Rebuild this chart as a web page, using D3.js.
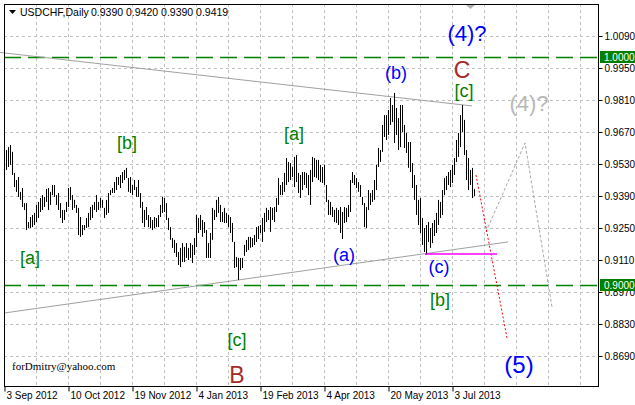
<!DOCTYPE html>
<html><head><meta charset="utf-8">
<script src="https://cdn.jsdelivr.net/npm/d3@7"></script>
<style>body{margin:0;background:#fff}svg{display:block}</style>
</head><body>
<svg id="c" width="635" height="405"></svg>
<script>
// ---- data ----
const symbolTitle = "USDCHF,Daily";
const lastQuote = ["0.9390", "0.9420", "0.9390", "0.9419"];
const highs = [
0.9591,0.9604,0.9613,0.9583,0.9491,0.9460,0.9473,0.9408,0.9425,0.9359,
0.9359,0.9276,0.9298,0.9307,0.9316,0.9351,0.9364,0.9381,0.9394,0.9386,
0.9421,0.9425,0.9408,0.9438,0.9438,0.9394,0.9403,0.9359,0.9329,0.9329,
0.9364,0.9425,0.9429,0.9394,0.9373,0.9351,0.9338,0.9298,0.9263,0.9263,
0.9294,0.9316,0.9342,0.9351,0.9364,0.9394,0.9364,0.9381,0.9373,0.9338,
0.9373,0.9403,0.9416,0.9425,0.9451,0.9473,0.9473,0.9482,0.9495,0.9504,
0.9513,0.9469,0.9473,0.9438,0.9460,0.9429,0.9460,0.9403,0.9364,0.9329,
0.9342,0.9307,0.9298,0.9285,0.9298,0.9294,0.9307,0.9351,0.9386,0.9381,
0.9359,0.9294,0.9254,0.9206,0.9198,0.9184,0.9145,0.9163,0.9184,0.9167,
0.9184,0.9163,0.9184,0.9176,0.9206,0.9307,0.9294,0.9307,0.9285,0.9276,
0.9241,0.9184,0.9228,0.9338,0.9329,0.9373,0.9386,0.9351,0.9320,0.9338,
0.9316,0.9307,0.9298,0.9272,0.9189,0.9123,0.9119,0.9119,0.9119,
0.9176,0.9198,0.9211,0.9211,0.9206,0.9219,0.9254,0.9259,0.9263,0.9294,
0.9316,0.9338,0.9329,0.9342,0.9338,0.9342,0.9381,0.9469,0.9438,0.9451,
0.9491,0.9556,0.9539,0.9534,0.9517,0.9561,0.9569,0.9491,0.9482,0.9495,
0.9495,0.9491,0.9482,0.9504,0.9561,0.9556,0.9548,0.9548,0.9526,0.9517,
0.9526,0.9438,0.9373,0.9364,0.9342,0.9329,0.9338,0.9329,0.9342,0.9320,
0.9342,0.9338,0.9351,0.9460,0.9495,0.9482,0.9469,0.9451,0.9438,
0.9386,0.9359,0.9342,0.9416,0.9403,0.9416,0.9460,0.9526,0.9600,0.9591,
0.9701,0.9744,0.9744,0.9766,0.9819,0.9788,0.9841,0.9775,0.9731,0.9788,
0.9788,0.9701,0.9666,0.9626,0.9626,0.9534,0.9482,0.9438,0.9373,0.9381,
0.9294,0.9250,0.9263,0.9276,0.9250,0.9272,0.9285,0.9316,0.9373,0.9364,
0.9416,0.9469,0.9478,0.9495,0.9504,0.9526,0.9556,0.9635,0.9666,0.9744,
0.9788,0.9723,0.9591,0.9556,0.9504,0.9513,0.9420
];
const lows = [
0.9504,0.9517,0.9526,0.9482,0.9429,0.9408,0.9386,0.9373,0.9342,0.9329,
0.9241,0.9250,0.9250,0.9254,0.9263,0.9276,0.9294,0.9320,0.9329,0.9342,
0.9364,0.9329,0.9351,0.9394,0.9386,0.9351,0.9329,0.9294,0.9272,0.9285,
0.9320,0.9342,0.9373,0.9329,0.9338,0.9316,0.9219,0.9211,0.9219,0.9241,
0.9250,0.9254,0.9285,0.9294,0.9329,0.9320,0.9329,0.9338,0.9338,0.9294,
0.9307,0.9316,0.9394,0.9403,0.9403,0.9416,0.9438,0.9425,0.9447,0.9460,
0.9469,0.9408,0.9403,0.9394,0.9416,0.9386,0.9386,0.9338,0.9272,0.9254,
0.9285,0.9254,0.9250,0.9241,0.9250,0.9254,0.9254,0.9298,0.9316,0.9320,
0.9285,0.9241,0.9198,0.9163,0.9141,0.9123,0.9088,0.9079,0.9101,0.9101,
0.9119,0.9110,0.9119,0.9097,0.9132,0.9167,0.9228,0.9241,0.9211,0.9228,
0.9119,0.9119,0.9119,0.9198,0.9285,0.9298,0.9316,0.9276,0.9276,0.9272,
0.9272,0.9254,0.9228,0.9189,0.9075,0.9079,0.9023,0.9066,0.9075,
0.9128,0.9145,0.9154,0.9163,0.9167,0.9176,0.9189,0.9202,0.9228,0.9189,
0.9233,0.9276,0.9285,0.9233,0.9285,0.9276,0.9320,0.9351,0.9394,0.9394,
0.9408,0.9438,0.9451,0.9460,0.9473,0.9429,0.9451,0.9403,0.9381,0.9416,
0.9438,0.9425,0.9394,0.9351,0.9451,0.9473,0.9469,0.9460,0.9451,0.9447,
0.9438,0.9364,0.9307,0.9307,0.9298,0.9276,0.9272,0.9263,0.9228,0.9202,
0.9272,0.9276,0.9298,0.9320,0.9447,0.9438,0.9425,0.9408,0.9386,
0.9351,0.9254,0.9250,0.9329,0.9351,0.9364,0.9373,0.9416,0.9517,0.9539,
0.9583,0.9648,0.9635,0.9657,0.9701,0.9714,0.9622,0.9657,0.9591,0.9604,
0.9670,0.9600,0.9578,0.9513,0.9495,0.9425,0.9373,0.9307,0.9263,0.9228,
0.9176,0.9145,0.9132,0.9189,0.9163,0.9184,0.9215,0.9228,0.9263,0.9294,
0.9307,0.9394,0.9416,0.9438,0.9429,0.9447,0.9482,0.9539,0.9561,0.9604,
0.9670,0.9569,0.9460,0.9416,0.9438,0.9381,0.9390
];
const priceTicks = [1.0090,0.9950,0.9810,0.9670,0.9530,0.9390,0.9250,0.9110,0.8970,0.8830,0.8690];
const levelPrices = [1.0000, 0.9000];
const dateLabels = ["3 Sep 2012","10 Oct 2012","19 Nov 2012","4 Jan 2013","19 Feb 2013","4 Apr 2013","20 May 2013","3 Jul 2013"];
const dateBars = [-1, 31, 63, 95, 127, 159, 191, 223];
const gridBars = d3.range(15, 296, 16);
// trend / forecast lines: [bar, price] vertices
const upperTrend = [[-3, 1.0018], [233, 0.9784]];
const lowerTrend = [[-1, 0.8878], [251, 0.9189]];
const redPath = [[235, 0.9482], [250.5, 0.8769]];
const grayPath = [[240, 0.9233], [259.5, 0.9622], [273, 0.8904]];
const magentaLine = [[209.5, 0.9136], [245.5, 0.9136]];
// wave labels: text, bar, price, kind
const waveLabels = [
  ["[a]", 12, 0.9119, "g"], ["[b]", 60.5, 0.9622, "g"], ["[a]", 144, 0.9661, "g"],
  ["(a)", 169, 0.9132, "b"], ["(b)", 195, 0.9928, "b"], ["C", 228, 0.9941, "r"],
  ["[c]", 229, 0.9849, "g"], ["(4)?", 230.5, 1.0103, "B"], ["(4)?", 261.5, 0.9793, "s"],
  ["(c)", 216.5, 0.9079, "b"], ["[b]", 217, 0.8935, "g"], ["(5)", 256.5, 0.8651, "B5"],
  ["[c]", 115.5, 0.8760, "g"], ["B", 115.5, 0.8607, "r"]
];
const signature = "forDmitry@yahoo.com";

// ---- drawing ----
const svg = d3.select("#c");
const L = 4, R = 598, T = 4, Bt = 386;
const x = d3.scaleLinear().domain([-1, 296]).range([L, R]);
const y = d3.scaleLinear().domain([0.855875, 1.0230]).range([Bt, T]);
const font = "'Liberation Sans', Arial, sans-serif";

svg.append("rect").attr("width", 635).attr("height", 405).attr("fill", "#fff");

// grid
const g = svg.append("g");
g.selectAll("line.h").data(priceTicks).join("line")
  .attr("x1", L).attr("x2", R)
  .attr("y1", d => Math.round(y(d)) + 0.5).attr("y2", d => Math.round(y(d)) + 0.5)
  .attr("stroke", "#c0c0c0").attr("stroke-dasharray", "3,3");
g.selectAll("line.v").data(gridBars).join("line")
  .attr("x1", d => Math.round(x(d)) + 0.5).attr("x2", d => Math.round(x(d)) + 0.5)
  .attr("y1", T).attr("y2", Bt)
  .attr("stroke", "#c0c0c0").attr("stroke-dasharray", "3,3");

// level lines
svg.selectAll("line.lvl").data(levelPrices).join("line")
  .attr("x1", L).attr("x2", R)
  .attr("y1", d => Math.round(y(d)) + 0.5).attr("y2", d => Math.round(y(d)) + 0.5)
  .attr("stroke", "#008000").attr("stroke-width", 1.3).attr("stroke-dasharray", "17,7");

// trend lines
const line = d3.line().x(d => x(d[0])).y(d => y(d[1]));
svg.append("path").attr("d", line(upperTrend)).attr("fill", "none").attr("stroke", "#a0a0a0");
svg.append("path").attr("d", line(lowerTrend)).attr("fill", "none").attr("stroke", "#a0a0a0");

// bars
svg.append("g").selectAll("line").data(highs).join("line")
  .attr("x1", (d, i) => Math.round(x(i)) + 0.5).attr("x2", (d, i) => Math.round(x(i)) + 0.5)
  .attr("y1", d => y(d)).attr("y2", (d, i) => y(lows[i]))
  .attr("stroke", "#000").attr("stroke-width", 1);

// forecast paths
svg.append("path").attr("d", line(grayPath)).attr("fill", "none")
  .attr("stroke", "#a8a8a8").attr("stroke-dasharray", "3,2");
svg.append("path").attr("d", line(redPath)).attr("fill", "none")
  .attr("stroke", "#ff0000").attr("stroke-dasharray", "2,2");
svg.append("path").attr("d", line(magentaLine)).attr("fill", "none")
  .attr("stroke", "#ff00ff").attr("stroke-width", 1.5);

// wave labels
const styles = {
  g: {fill: "#008000", size: 18}, b: {fill: "#0000ff", size: 18},
  r: {fill: "#a52a2a", size: 23}, B: {fill: "#0000ff", size: 22},
  s: {fill: "#b8b8b8", size: 22}, B5: {fill: "#0000ff", size: 24}
};
svg.append("g").selectAll("text").data(waveLabels).join("text")
  .attr("x", d => x(d[1])).attr("y", d => y(d[2]))
  .attr("text-anchor", "middle").attr("dominant-baseline", "central")
  .attr("font-family", font).attr("font-size", d => styles[d[3]].size)
  .attr("fill", d => styles[d[3]].fill).text(d => d[0]);

// frame
svg.append("rect").attr("x", L + 0.5).attr("y", T + 0.5).attr("width", R - L).attr("height", Bt - T)
  .attr("fill", "none").attr("stroke", "#000");

// right axis
const ax = svg.append("g").attr("transform", `translate(${R + 0.5},0)`)
  .call(d3.axisRight(y).tickValues(priceTicks).tickSize(4).tickPadding(2).tickFormat(d3.format(".4f")));
ax.select(".domain").remove();
ax.selectAll("text").attr("font-family", font).attr("font-size", 10).attr("fill", "#000");
ax.selectAll("line").attr("stroke", "#000");

// level price boxes
const lb = svg.append("g").selectAll("g").data(levelPrices).join("g")
  .attr("transform", d => `translate(${R + 2},${Math.round(y(d))})`);
lb.append("rect").attr("x", 0).attr("y", -6).attr("width", 36).attr("height", 12).attr("fill", "#008000");
lb.append("text").attr("x", 4).attr("y", 0).attr("dominant-baseline", "central")
  .attr("font-family", font).attr("font-size", 10).attr("fill", "#fff").text(d => d.toFixed(4));

// bottom axis
const bx = svg.append("g").attr("transform", `translate(0,${Bt + 0.5})`)
  .call(d3.axisBottom(x).tickValues(dateBars).tickSize(5).tickFormat((d, i) => dateLabels[i]));
bx.select(".domain").remove();
bx.selectAll("line").attr("stroke", "#000").attr("transform", "translate(0.5,0)");
bx.selectAll("text").attr("text-anchor", "start").attr("dx", "2").attr("y", 5)
  .attr("font-family", font).attr("font-size", 10).attr("fill", "#000");

// title
svg.append("path").attr("d", `M9,10 L16,10 L12.5,14 Z`).attr("fill", "#000");
svg.append("text").attr("x", 20).attr("y", 16).attr("font-family", font).attr("font-size", 10.5)
  .attr("fill", "#000").text(symbolTitle);
svg.append("text").attr("x", 91).attr("y", 16).attr("font-family", font).attr("font-size", 10.5)
  .attr("fill", "#000").text(lastQuote.join(" "));

// chart shift marker
svg.append("path").attr("d", `M${x(232) - 4},5 L${x(232) + 5},5 L${x(232) + 0.5},9 Z`).attr("fill", "#b0b0b0");

// signature
svg.append("text").attr("x", 12).attr("y", 370).attr("font-family", "'Liberation Serif', 'Times New Roman', serif")
  .attr("font-size", 11).attr("fill", "#000").text(signature);
</script>
</body></html>
